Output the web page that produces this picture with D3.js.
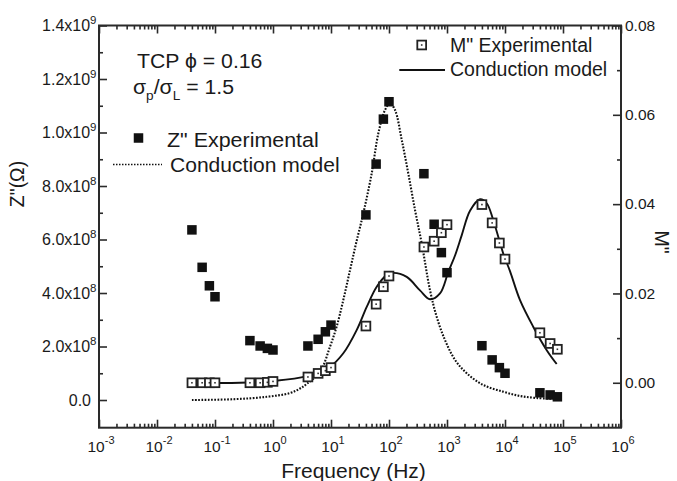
<!DOCTYPE html>
<html><head><meta charset="utf-8">
<script src="https://cdn.jsdelivr.net/npm/d3@7/dist/d3.min.js"></script>
<style>
html,body{margin:0;padding:0;background:#fff;}
svg{display:block;font-family:"Liberation Sans",Arial,sans-serif;}
</style></head>
<body>
<svg id="chart" width="677" height="481"></svg>
<script>
// ---------- data ----------
const freqs = [0.04,0.06,0.08,0.1,0.4,0.6,0.8,1,4,6,8,10,40,60,80,100,400,600,800,1000,4000,6000,8000,10000,40000,60000,80000];
const zExp = [6.36e8,4.96e8,4.27e8,3.86e8,2.22e8,2.02e8,1.93e8,1.87e8,2.02e8,2.27e8,2.55e8,2.80e8,6.92e8,8.82e8,1.05e9,1.115e9,8.46e8,6.57e8,5.51e8,4.76e8,2.03e8,1.50e8,1.21e8,1.0e8,2.7e7,1.9e7,1.2e7];
const mExp = [0.0000,0.0000,0.0000,0.0000,0.0000,0.0000,0.0001,0.0003,0.0013,0.0021,0.0027,0.0034,0.0127,0.0176,0.0215,0.0239,0.0304,0.0317,0.0336,0.0354,0.0399,0.0358,0.0313,0.0277,0.0112,0.0088,0.0075];

const zModelF = [0.04,0.21,0.78,1.96,2.92,3.81,6.46,9.6,12.5,16.3,21.3,27.0,36.1,50.3,65.5,85.3,104,127,166,215,281,366,509,664,924,1375,2188,4230,9350,18150,35200,80000];
const zModelV = [0,3e6,1.2e7,2.6e7,4.3e7,6.0e7,1.05e8,1.99e8,2.74e8,3.74e8,4.86e8,5.85e8,6.98e8,8.47e8,9.97e8,1.084e9,1.109e9,1.084e9,9.72e8,8.47e8,7.10e8,5.86e8,4.11e8,3.11e8,2.24e8,1.50e8,1.0e8,5.6e7,3.1e7,1.5e7,7.5e6,4e6];

const mModelF = [0.04,0.27,1.01,3.81,9.6,16.3,27.7,41.3,61.4,91.3,119,202,342,509,757,1052,1375,1791,2494,3707,4833,6282,9350,12190,18150,30800,52400,77800];
const mModelV = [0,0,0.0004,0.0015,0.0036,0.0066,0.0118,0.0170,0.0215,0.0241,0.0246,0.0237,0.0207,0.0187,0.0200,0.0248,0.0285,0.0330,0.0385,0.0411,0.0402,0.0364,0.0289,0.0250,0.0185,0.0125,0.0073,0.0042];

const xExponents = [-3,-2,-1,0,1,2,3,4,5,6];
const leftTicks = [0,2e8,4e8,6e8,8e8,1.0e9,1.2e9,1.4e9];
const leftTickLabels = [["0.0",""],["2.0x10","8"],["4.0x10","8"],["6.0x10","8"],["8.0x10","8"],["1.0x10","9"],["1.2x10","9"],["1.4x10","9"]];
const leftMinor = [1e8,3e8,5e8,7e8,9e8,1.1e9,1.3e9];
const rightTicks = [0,0.02,0.04,0.06,0.08];
const rightTickLabels = ["0.00","0.02","0.04","0.06","0.08"];
const rightMinor = [0.01,0.03,0.05,0.07];

// ---------- layout ----------
const L = 99, R = 621, T = 25.5, B = 427.7;
const ink = "#1a1a1a", axisCol = "#2a2a2a";
const svg = d3.select("#chart");

const x = d3.scaleLog().domain([1e-3,1e6]).range([L,R]);
const yL = d3.scaleLinear().domain([-1.035e8,1.4e9]).range([B,T]);
const yR = d3.scaleLinear().domain([-0.01006,0.08]).range([B,T]);

const xMajor = xExponents.map(e => Math.pow(10,e));
const xMinor = [];
xExponents.slice(0,-1).forEach(e => { for (let k=2;k<=9;k++) xMinor.push(k*Math.pow(10,e)); });

function styleAxis(g){
  g.select(".domain").remove();
  g.selectAll("line").attr("stroke",axisCol).attr("stroke-width",1.6);
  g.selectAll("text").remove();
}
svg.append("g").attr("transform",`translate(0,${B})`).call(d3.axisBottom(x).tickValues(xMajor).tickSize(-8).tickFormat("")).call(styleAxis);
svg.append("g").attr("transform",`translate(0,${B})`).call(d3.axisBottom(x).tickValues(xMinor).tickSize(-4).tickFormat("")).call(styleAxis);
svg.append("g").attr("transform",`translate(0,${T})`).call(d3.axisTop(x).tickValues(xMajor).tickSize(-8).tickFormat("")).call(styleAxis);
svg.append("g").attr("transform",`translate(0,${T})`).call(d3.axisTop(x).tickValues(xMinor).tickSize(-4).tickFormat("")).call(styleAxis);
svg.append("g").attr("transform",`translate(${L},0)`).call(d3.axisLeft(yL).tickValues(leftTicks).tickSize(-8).tickFormat("")).call(styleAxis);
svg.append("g").attr("transform",`translate(${L},0)`).call(d3.axisLeft(yL).tickValues(leftMinor).tickSize(-4).tickFormat("")).call(styleAxis);
svg.append("g").attr("transform",`translate(${R},0)`).call(d3.axisRight(yR).tickValues(rightTicks).tickSize(-8).tickFormat("")).call(styleAxis);
svg.append("g").attr("transform",`translate(${R},0)`).call(d3.axisRight(yR).tickValues(rightMinor).tickSize(-4).tickFormat("")).call(styleAxis);

svg.append("rect").attr("x",L).attr("y",T).attr("width",R-L).attr("height",B-T)
  .attr("fill","none").attr("stroke",axisCol).attr("stroke-width",2);

// x tick labels
xExponents.forEach(e => {
  const t = svg.append("text").attr("x",x(Math.pow(10,e))+2).attr("y",451.7)
    .attr("text-anchor","middle").attr("fill",ink).attr("font-size",15.5);
  t.append("tspan").text("10");
  t.append("tspan").attr("font-size",11).attr("dy",-7.5).text(String(e));
});
// left tick labels
leftTicks.forEach((v,i) => {
  const [m,ex] = leftTickLabels[i];
  const t = svg.append("text").attr("x", ex ? 96.5 : 91).attr("y",yL(v)+5.5)
    .attr("text-anchor","end").attr("fill",ink).attr("font-size",16);
  t.append("tspan").text(m);
  if (ex) t.append("tspan").attr("font-size",11.5).attr("dy",-7).text(ex);
});
// right tick labels
rightTicks.forEach((v,i) => {
  svg.append("text").attr("x",625).attr("y",yR(v)+5.2).attr("fill",ink)
    .attr("font-size",15.5).text(rightTickLabels[i]);
});

// axis titles
svg.append("text").attr("x",353.5).attr("y",478).attr("text-anchor","middle")
  .attr("fill",ink).attr("font-size",21).text("Frequency (Hz)");
svg.append("text").attr("transform","translate(24,184) rotate(-90)").attr("text-anchor","middle")
  .attr("fill",ink).attr("font-size",19.5).text("Z\"(\u03A9)");
svg.append("text").attr("transform","translate(655,242) rotate(90)").attr("text-anchor","middle")
  .attr("fill",ink).attr("font-size",19.5).text("M\"");

// ---------- curves ----------
const zLine = d3.line().x(d=>x(d[0])).y(d=>yL(d[1])).curve(d3.curveCatmullRom.alpha(0.5));
const mLine = d3.line().x(d=>x(d[0])).y(d=>yR(d[1])).curve(d3.curveCatmullRom.alpha(0.5));
svg.append("path").datum(d3.zip(zModelF,zModelV)).attr("d",zLine)
  .attr("fill","none").attr("stroke","#111").attr("stroke-width",2.1).attr("stroke-dasharray","1.7,1.5");
svg.append("path").datum(d3.zip(mModelF,mModelV)).attr("d",mLine)
  .attr("fill","none").attr("stroke","#111").attr("stroke-width",1.9);

// ---------- markers ----------
const fs = 9.5;
svg.append("g").selectAll("rect").data(d3.zip(freqs,zExp)).join("rect")
  .attr("x",d=>x(d[0])-fs/2).attr("y",d=>yL(d[1])-fs/2).attr("width",fs).attr("height",fs)
  .attr("fill","#111");
const os = 8.8;
const og = svg.append("g").selectAll("g").data(d3.zip(freqs,mExp)).join("g")
  .attr("transform",d=>`translate(${x(d[0])},${yR(d[1])})`);
og.append("rect").attr("x",-os/2).attr("y",-os/2).attr("width",os).attr("height",os)
  .attr("fill","#fff").attr("stroke","#222").attr("stroke-width",1.8);
og.append("rect").attr("x",-0.8).attr("y",-0.8).attr("width",1.6).attr("height",1.6).attr("fill","#333");

// ---------- annotations / legends (left block is slightly wider in the original) ----------
function wideText(x0,y0,size,sx){
  return svg.append("text").attr("transform",`translate(${x0},${y0}) scale(${sx},1)`)
    .attr("fill",ink).attr("font-size",size);
}
wideText(137,68.3,19.5,1.09).text("TCP \u03D5 = 0.16");
const s = wideText(133,94,19.5,1.09);
s.append("tspan").text("\u03C3");
s.append("tspan").attr("font-size",12.5).attr("dy",5.5).text("p");
s.append("tspan").attr("dy",-5.5).text("/\u03C3");
s.append("tspan").attr("font-size",12.5).attr("dy",5.5).text("L");
s.append("tspan").attr("dy",-5.5).text(" = 1.5");

// left legend
svg.append("rect").attr("x",138.5-fs/2).attr("y",138-fs/2).attr("width",fs).attr("height",fs).attr("fill","#111");
wideText(167,146.7,19.5,1.1).text("Z\" Experimental");
svg.append("line").attr("x1",113).attr("x2",162).attr("y1",164.5).attr("y2",164.5)
  .attr("stroke","#111").attr("stroke-width",1.7).attr("stroke-dasharray","1.5,1.5");
wideText(170,172,19.5,1.08).text("Conduction model");

// right legend
const lg = svg.append("g").attr("transform","translate(421.7,45)");
lg.append("rect").attr("x",-os/2).attr("y",-os/2).attr("width",os).attr("height",os)
  .attr("fill","#fff").attr("stroke","#222").attr("stroke-width",1.8);
lg.append("rect").attr("x",-0.8).attr("y",-0.8).attr("width",1.6).attr("height",1.6).attr("fill","#333");
svg.append("text").attr("x",450).attr("y",52.3).attr("fill",ink).attr("font-size",19.5).text("M\" Experimental");
svg.append("line").attr("x1",399.3).attr("x2",445).attr("y1",70).attr("y2",70)
  .attr("stroke","#111").attr("stroke-width",1.9);
svg.append("text").attr("x",450).attr("y",75.8).attr("fill",ink).attr("font-size",19.5).text("Conduction model");
</script>
</body></html>
